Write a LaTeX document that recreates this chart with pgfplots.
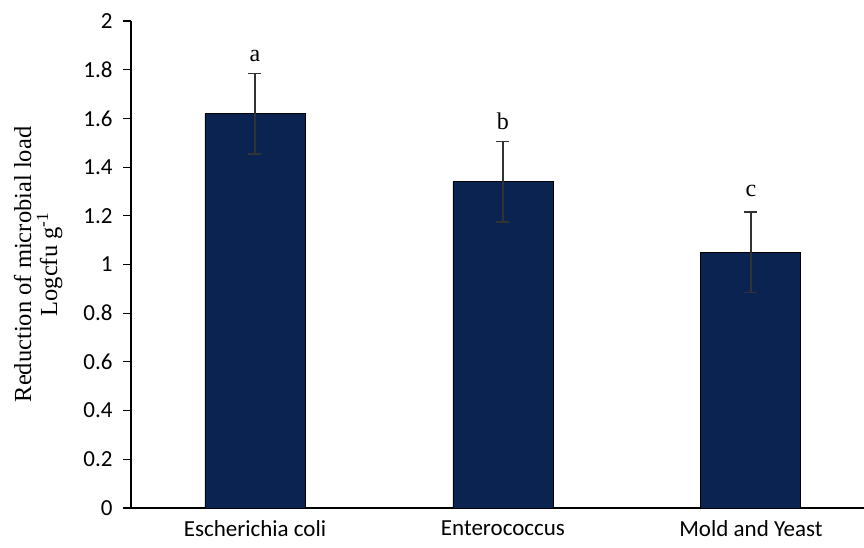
\documentclass[border=0pt]{standalone}
\usepackage{pgfplots}
\pgfplotsset{compat=1.18}
\usepackage{fontspec}
\setmainfont{Carlito}
\newfontfamily\seriffont{Liberation Serif}
\definecolor{barblue}{HTML}{0A2350}

\begin{document}
\begin{tikzpicture}[x=1pt,y=1pt]
\begin{axis}[
  scale only axis,
  width=733pt, height=487pt,
  xmin=-0.5, xmax=2.456,
  ymin=0, ymax=2,
  ytick={0,0.2,...,2},
  yticklabel style={/pgf/number format/fixed,/pgf/number format/precision=1},
  /pgf/number format/assume math mode=true,
  xtick={0,1,2},
  xticklabels={Escherichia coli,Enterococcus,Mold and Yeast},
  axis x line*=bottom, axis y line*=left,
  axis line style={-, black, line width=1.3pt},
  x tick style={draw=none},
  y tick style={black, line width=1.1pt},
  tick align=outside, major tick length=8pt,
  tick label style={font=\fontsize{23}{26}\selectfont},
  xticklabel style={yshift=-1pt},
  yticklabel style={xshift=-7pt},
  ylabel={\seriffont Reduction of microbial load\\\seriffont Logcfu g\textsuperscript{-1}},
  ylabel style={font=\fontsize{24.5}{26}\selectfont, align=center, yshift=14pt},
  clip=false,
]
\addplot[ybar, bar width=100pt, fill=barblue, draw=black, line width=0.9pt,
  error bars/.cd, y dir=both, y explicit,
  error bar style={line width=1.6pt, black!80},
  error mark options={rotate=90, mark size=6.5pt, line width=1.6pt, black!80}]
  coordinates {
    (0,1.62) +- (0,0.165)
    (1,1.34) +- (0,0.165)
    (2,1.05) +- (0,0.165)
  };
\node[font=\seriffont\fontsize{24}{26}\selectfont] at (axis cs:0,1.855) {a};
\node[font=\seriffont\fontsize{24}{26}\selectfont] at (axis cs:1,1.59) {b};
\node[font=\seriffont\fontsize{24}{26}\selectfont] at (axis cs:2,1.30) {c};
\coordinate (o) at (rel axis cs:0,0);
\end{axis}
\pgfresetboundingbox
\path[use as bounding box] (o) ++(-131pt,-40pt) rectangle ++(864pt,548pt);
\end{tikzpicture}
\end{document}
